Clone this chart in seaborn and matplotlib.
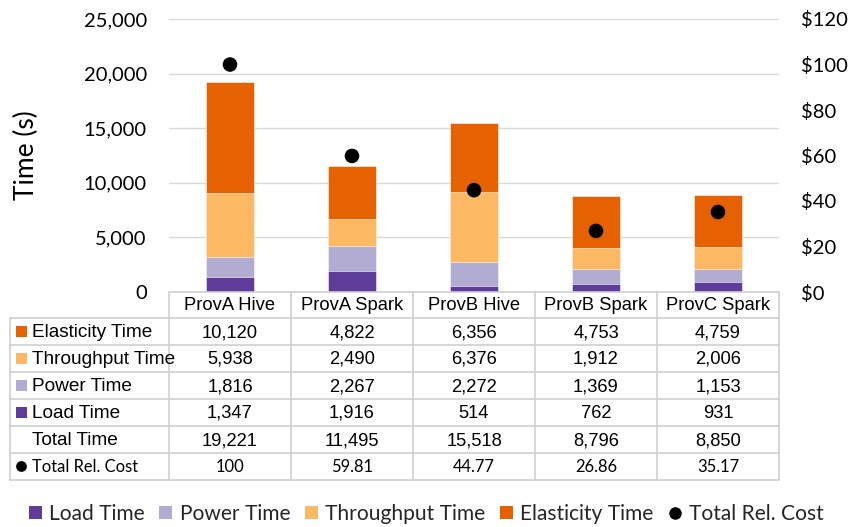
import matplotlib
matplotlib.use("Agg")
import matplotlib.pyplot as plt
from matplotlib.patches import Patch, Rectangle
from matplotlib.lines import Line2D
from matplotlib.ticker import FuncFormatter, MultipleLocator
import numpy as np
import pandas as pd
import seaborn as sns

# ---- data ----
systems = ["ProvA Hive", "ProvA Spark", "ProvB Hive", "ProvB Spark", "ProvC Spark"]
load_time = [1347, 1916, 514, 762, 931]
power_time = [1816, 2267, 2272, 1369, 1153]
throughput_time = [5938, 2490, 6376, 1912, 2006]
elasticity_time = [10120, 4822, 6356, 4753, 4759]
total_time = [19221, 11495, 15518, 8796, 8850]
total_rel_cost = [100, 59.81, 44.77, 26.86, 35.17]

series_names = ["Load Time", "Power Time", "Throughput Time", "Elasticity Time"]
series_values = [load_time, power_time, throughput_time, elasticity_time]
series_colors = ["#5e3c99", "#b2abd2", "#fdb863", "#e66101"]

W, H = 852, 527
AX_FONT = "Lato"
TAB_FONT = "Liberation Sans"

sns.set_theme(style="white")
plt.rcParams["font.family"] = [AX_FONT, "DejaVu Sans"]

fig = plt.figure(figsize=(W / 100, H / 100), dpi=100)

# plot area in pixel geometry
px0, px1, py_top, py_bot = 169, 779, 19, 292
ax = fig.add_axes([px0 / W, 1 - py_bot / H, (px1 - px0) / W, (py_bot - py_top) / H])

cum = np.zeros(len(systems))
cums = []
for vals in series_values:
    cum = cum + np.array(vals)
    cums.append(cum.copy())
# stacked bars: draw cumulative totals from the top layer down
for name, c, col in reversed(list(zip(series_names, cums, series_colors))):
    d = pd.DataFrame({"system": systems, "value": c})
    sns.barplot(data=d, x="system", y="value", color=col, width=0.4,
                saturation=1, ax=ax, edgecolor="white", linewidth=0.4, zorder=2)

ax.set_ylim(0, 25000)
ax.set_xlim(-0.5, len(systems) - 0.5)
ax.yaxis.set_major_locator(MultipleLocator(5000))
ax.yaxis.set_major_formatter(FuncFormatter(lambda v, p: f"{int(v):,}"))
ax.grid(axis="y", color="#d9d9d9", linewidth=1.0, zorder=0)
ax.set_axisbelow(True)
for s in ["top", "right", "left", "bottom"]:
    ax.spines[s].set_visible(False)
ax.tick_params(axis="y", length=0, pad=16, labelsize=14.5, labelcolor="#000000")
ax.set_xticks(range(len(systems)))
ax.set_xticklabels([])
ax.tick_params(axis="x", length=0)
ax.set_xlabel("")
ax.set_ylabel("Time (s)", fontsize=19, labelpad=32, color="#000000")

ax2 = ax.twinx()
d2 = pd.DataFrame({"system": systems, "cost": total_rel_cost})
sns.scatterplot(data=d2, x="system", y="cost", color="black", s=110,
                edgecolor="none", ax=ax2, zorder=5, legend=False)
ax2.set_ylim(0, 120)
ax2.set_xlim(-0.5, len(systems) - 0.5)
ax2.yaxis.set_major_locator(MultipleLocator(20))
ax2.yaxis.set_major_formatter(FuncFormatter(lambda v, p: f"${int(v)}"))
ax2.tick_params(axis="y", length=0, pad=16, labelsize=14.5, labelcolor="#000000")
ax2.set_ylabel("")
ax2.set_xlabel("")
ax2.grid(False)
for s in ["top", "right", "left", "bottom"]:
    ax2.spines[s].set_visible(False)

# ---- data table below the plot (pixel coordinates) ----
tab = fig.add_axes([0, 0, 1, 1])
tab.set_xlim(0, W)
tab.set_ylim(H, 0)
tab.axis("off")
tab.patch.set_alpha(0)

line_col = "#d0d0d0"
col_edges = [169, 291, 413, 535, 657, 779]
label_left = 10
row_edges = [292, 318, 345, 372, 399, 426, 453, 480]

# horizontal lines
tab.plot([col_edges[0], col_edges[-1]], [row_edges[0]] * 2, color=line_col, lw=1.2)
for y in row_edges[1:]:
    tab.plot([label_left, col_edges[-1]], [y, y], color=line_col, lw=1.2)
# vertical lines
tab.plot([label_left, label_left], [row_edges[1], row_edges[-1]], color=line_col, lw=1.2)
for x in col_edges:
    tab.plot([x, x], [row_edges[0], row_edges[-1]], color=line_col, lw=1.2)

centers_x = [(a + b) / 2 for a, b in zip(col_edges[:-1], col_edges[1:])]
row_cy = [(a + b) / 2 for a, b in zip(row_edges[:-1], row_edges[1:])]

for cx, name in zip(centers_x, systems):
    tab.text(cx, row_cy[0] + 1, name, ha="center", va="center", fontsize=13.2,
             family=TAB_FONT, color="#000000")

table_rows = [
    ("Elasticity Time", elasticity_time, series_colors[3]),
    ("Throughput Time", throughput_time, series_colors[2]),
    ("Power Time", power_time, series_colors[1]),
    ("Load Time", load_time, series_colors[0]),
    ("Total Time", total_time, None),
]
for i, (label, vals, col) in enumerate(table_rows):
    cy = row_cy[i + 1]
    if col is not None:
        tab.add_patch(Rectangle((16, cy - 5.5), 11, 11, facecolor=col, edgecolor="none"))
    tab.text(32, cy + 1, label, ha="left", va="center", fontsize=13.7,
             family=TAB_FONT, color="#000000", zorder=3)
    for cx, v in zip(centers_x, vals):
        tab.text(cx, cy + 1, f"{v:,}", ha="center", va="center", fontsize=13.2,
                 family=TAB_FONT, color="#000000")

cy = row_cy[6]
tab.scatter([21.5], [cy], s=60, color="black", edgecolor="none")
tab.text(32, cy + 1, "Total Rel. Cost", ha="left", va="center", fontsize=11.9,
         family=AX_FONT, color="#000000")
for cx, v in zip(centers_x, total_rel_cost):
    tab.text(cx, cy + 1, f"{v:g}", ha="center", va="center", fontsize=11.9,
             family=AX_FONT, color="#000000")

# ---- legend ----
handles = [Patch(facecolor=c, edgecolor="none") for c in series_colors]
handles.append(Line2D([], [], marker="o", linestyle="none", color="black", markersize=8))
labels = series_names + ["Total Rel. Cost"]
fig.legend(handles, labels, loc="center", bbox_to_anchor=(0.5, 1 - 514 / H), ncol=5,
           frameon=False, fontsize=15.1, handlelength=0.62, handleheight=0.62,
           handletextpad=0.35, columnspacing=0.7)

fig.savefig("out.png", dpi=100)
